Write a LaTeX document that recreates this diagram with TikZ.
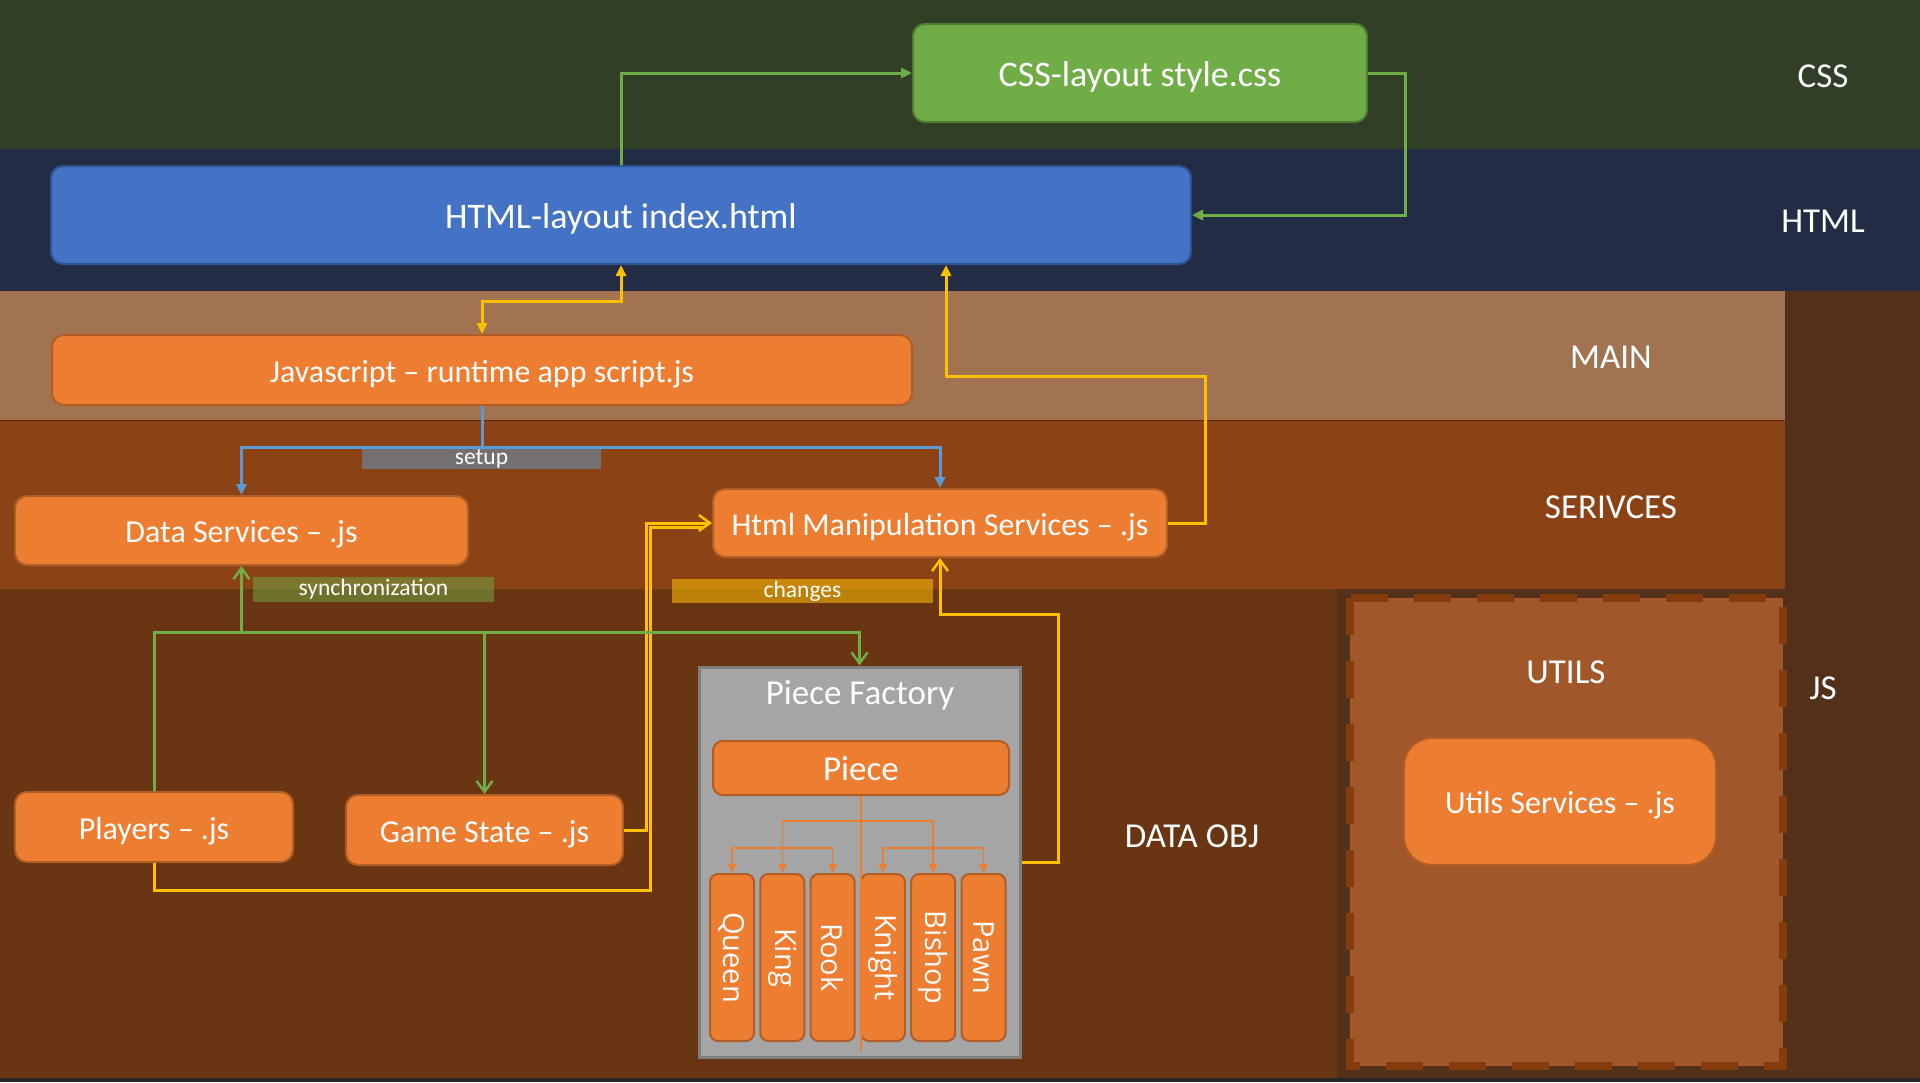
\documentclass[tikz,border=0pt]{standalone}
\usepackage{fontspec}
\usepackage{graphicx}
\setmainfont{Carlito}
\newfontfamily\osans{Open Sans}
\usetikzlibrary{arrows.meta,calc}
\definecolor{bandcss}{HTML}{303F26}
\definecolor{bandhtml}{HTML}{222D45}
\definecolor{bandmain}{HTML}{A27350}
\definecolor{bandsrv}{HTML}{8B4215}
\definecolor{banddata}{HTML}{6A3512}
\definecolor{bandjs}{HTML}{53301A}
\definecolor{utilfill}{HTML}{A0572A}
\definecolor{utildash}{HTML}{843C0C}
\definecolor{orF}{HTML}{ED7D31}
\definecolor{orD}{HTML}{B15E26}
\definecolor{grF}{HTML}{70AD47}
\definecolor{grD}{HTML}{507E32}
\definecolor{blF}{HTML}{4472C4}
\definecolor{blD}{HTML}{2F528F}
\definecolor{ylw}{HTML}{FFC000}
\definecolor{lnblue}{HTML}{5B9BD5}
\definecolor{setupgray}{HTML}{747072}
\definecolor{facF}{HTML}{A5A5A5}
\definecolor{facD}{HTML}{7F7F7F}
\tikzset{
  basebox/.style={rounded corners=12pt, draw, line width=2pt, text=white, inner sep=0pt, align=center, text depth=0pt},
  obox/.style={basebox, fill=orF, draw=orD, font=\fontsize{32}{38}\selectfont, text height=24.5pt},
  gbox/.style={basebox, fill=grF, draw=grD, font=\fontsize{36}{43}\selectfont, text height=27pt},
  hbox/.style={basebox, fill=blF, draw=blD, font=\fontsize{36}{43}\selectfont, text height=27pt},
  childbox/.style={rounded corners=8pt, draw=orD, line width=2pt, fill=orF, text=white, inner sep=0pt, minimum width=44pt, minimum height=167pt, font=\osans\fontsize{29}{34}\selectfont},
  bandlabel/.style={text=white, inner sep=0pt, font=\fontsize{35}{42}\selectfont, text height=25pt, text depth=0pt},
  tag/.style={text=white, inner sep=0pt, font=\fontsize{23.5}{28}\selectfont},
  fillarrow/.style={-{Triangle[length=11pt,width=10pt]}},
  barbarrow/.style={-{Straight Barb[length=11pt,width=16pt,line width=2.5pt]}},
  gline/.style={draw=grF, line width=3pt},
  yline/.style={draw=ylw, line width=3pt},
  bline/.style={draw=lnblue, line width=3pt},
  oline/.style={draw=orF, line width=1.6pt},
  oarrow/.style={oline, -{Triangle[length=9pt,width=8pt]}},
}
\begin{document}
\begin{tikzpicture}[x=1pt,y=-1pt]
\useasboundingbox (0,0) rectangle (1920,1082);
% bands
\fill[bandcss] (0,0) rectangle (1920,149);
\fill[bandhtml] (0,149) rectangle (1920,291);
\fill[bandjs] (0,291) rectangle (1920,1082);
\fill[bandmain] (0,291) rectangle (1785,420);
\fill[bandsrv] (0,420) rectangle (1785,589);
\fill[banddata] (0,589) rectangle (1337,1082);
\draw[utildash!70!black, line width=1pt] (0,420) -- (1785,420);
\fill[black!85] (0,1078) rectangle (1920,1082);
% utils dashed region
\draw[utildash, fill=utilfill, line width=8pt, dash pattern=on 37pt off 26pt] (1350,598) rectangle (1783,1066);
% band labels
\node[bandlabel] (lcss) at (1823,75) {CSS};
\node[bandlabel] (lhtml) at (1823,220) {HTML};
\node[bandlabel] (lmain) at (1611,356) {MAIN};
\node[bandlabel] (lsrv) at (1611,506) {SERIVCES};
\node[bandlabel] (ldata) at (1192,835) {DATA OBJ};
\node[bandlabel] (ljs) at (1823,687) {JS};
\node[bandlabel] (lutils) at (1566,671) {UTILS};
% main boxes
\node[gbox, minimum width=454pt, minimum height=98pt] (css) at (1140,73) {CSS-layout style.css};
\node[hbox, minimum width=1140pt, minimum height=98pt] (html) at (621,215) {HTML-layout index.html};
\node[obox, minimum width=860pt, minimum height=70pt] (js) at (482,370) {Javascript – runtime app script.js};
\node[obox, minimum width=453pt, minimum height=69pt] (data) at (241.5,530.5) {Data Services – .js};
\node[obox, minimum width=454pt, minimum height=68pt] (hms) at (940,523) {Html Manipulation Services – .js};
\node[obox, minimum width=278pt, minimum height=70pt] (players) at (154,827) {Players – .js};
\node[obox, minimum width=277pt, minimum height=70pt] (game) at (484.5,830) {Game State – .js};
\node[obox, rounded corners=28pt, minimum width=312pt, minimum height=127pt] (usvc) at (1560,801.5) {Utils Services – .js};
% piece factory
\node[draw=facD, fill=facF, line width=3pt, minimum width=321pt, minimum height=390pt, inner sep=0pt] (factory) at (859.5,862) {};
\node[text=white, inner sep=0pt, font=\fontsize{35}{42}\selectfont, text height=25pt, text depth=0pt] (factlabel) at (860,692) {Piece Factory};
\node[obox, rounded corners=10pt, font=\fontsize{35}{42}\selectfont, text height=25pt, minimum width=296pt, minimum height=54pt] (piece) at (861,768) {Piece};
\node[childbox] (queen) at (732,957.5) {\rotatebox{-90}{Queen}};
\node[childbox] (king) at (782.3,957.5) {\rotatebox{-90}{King}};
\node[childbox] (rook) at (832.6,957.5) {\rotatebox{-90}{Rook}};
\node[childbox] (knight) at (882.9,957.5) {\rotatebox{-90}{Knight}};
\node[childbox] (bishop) at (933.2,957.5) {\rotatebox{-90}{Bishop}};
\node[childbox] (pawn) at (983.5,957.5) {\rotatebox{-90}{Pawn}};
% piece tree
\coordinate (ly1) at (0,821);
\coordinate (ly2) at (0,848);
\draw[oline] (piece.south) -- ([yshift=8pt]piece.south |- factory.south);
\draw[oline] (king.north |- ly1) -- (bishop.north |- ly1);
\draw[oarrow] (king.north |- ly1) -- (king.north);
\draw[oarrow] (bishop.north |- ly1) -- (bishop.north);
\draw[oline] (queen.north |- ly2) -- (rook.north |- ly2);
\draw[oarrow] (queen.north |- ly2) -- (queen.north);
\draw[oarrow] (rook.north |- ly2) -- (rook.north);
\draw[oline] (knight.north |- ly2) -- (pawn.north |- ly2);
\draw[oarrow] (knight.north |- ly2) -- (knight.north);
\draw[oarrow] (pawn.north |- ly2) -- (pawn.north);
% green css connectors
\draw[gline, fillarrow] (html.north) |- (css.west);
\draw[gline, fillarrow] (css.east) -- ++(37,0) |- (html.east);
% yellow html <-> js
\draw[yline, {Triangle[length=11pt,width=10pt]}-{Triangle[length=11pt,width=10pt]}] (html.south) -- ++(0,36) -| (js.north);
% yellow hms -> html
\coordinate (yhm) at (1205,376);
\draw[yline, fillarrow] (hms.east) -| (yhm) -| ([xshift=325pt]html.south);
% yellow game/players -> hms
\coordinate (pj) at (650,890);
\draw[yline] (players.south) |- (pj) |- ([yshift=-4pt,xshift=-8pt]hms.west);
\draw[yline, barbarrow] (game.east) -- ++(22,0) |- (hms.west);
% yellow factory -> hms
\draw[yline, barbarrow] (factory.east) -- ++(37,0) |- ([yshift=-56pt]hms.south) -- (hms.south);
% blue setup
\coordinate (bs) at (482,447);
\draw[bline] (js.south) -- (bs);
\draw[bline, fillarrow] (bs) -| (data.north);
\draw[bline, fillarrow] (bs) -| (hms.north);
\node[tag, fill=setupgray, minimum width=239pt, minimum height=20pt] (setup) at (481.5,459) {setup};
% green synchronization
\coordinate (gs) at (241.5,632);
\draw[gline] (players.north) |- (gs);
\draw[gline, barbarrow] (gs) -- (data.south);
\draw[gline, barbarrow] (gs) -| (game.north);
\draw[gline, barbarrow] (gs) -| (factory.north);
\node[tag, fill=grF, fill opacity=0.5, text opacity=1, minimum width=241pt, minimum height=25pt] (sync) at (373.5,589.5) {synchronization};
\node[tag, fill=ylw, fill opacity=0.55, text opacity=1, minimum width=261pt, minimum height=24pt] (changes) at (802.5,591) {changes};
\end{tikzpicture}
\end{document}
